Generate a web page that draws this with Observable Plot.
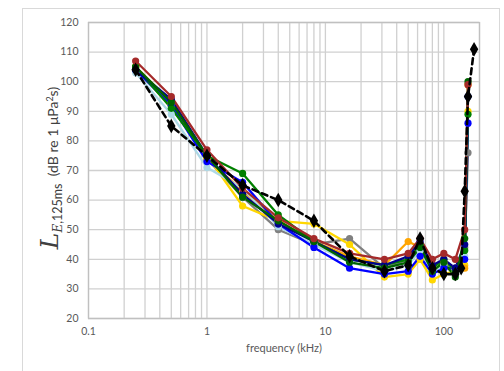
<!DOCTYPE html>
<html>
<head>
<meta charset="utf-8">
<script src="https://cdn.jsdelivr.net/npm/d3@7"></script>
<script src="https://cdn.jsdelivr.net/npm/@observablehq/plot@0.6"></script>
<style>
  html, body { margin: 0; padding: 0; background: #fff; overflow: hidden; }
  #wrap { position: relative; width: 504px; height: 371px; }
  #border { position: absolute; left: 22px; top: 8px; width: 478px; height: 400px; border: 1px solid #d9d9d9; box-sizing: border-box; }
  #chart { position: absolute; left: 0; top: 0; }
</style>
</head>
<body>
<div id="wrap"><div id="border"></div><div id="chart"></div></div>
<script>
// frequencies (kHz)
const freqs = [0.25, 0.5, 1, 2, 4, 8, 16, 31.5, 50, 63, 80, 100, 125, 150, 160];
const freqsBlack = [0.25, 0.5, 1, 2, 4, 8, 16, 31.5, 50, 63, 80, 100, 125, 140, 150, 160, 180];

// series values (dB re 1 µPa²s)
const blue      = [104, 92, 73, 66, 52, 44, 37, 35, 36, 41, 35, 37, 37, 40, 86];
const lightBlue = [103, 89, 71, 64, 51, 45, 39, 36, 38, 43, 36, 38, 36, 41, 95];
const orange    = [105, 93, 74, 63, 53, 46, 41, 38, 46, 44, 36, 39, 37, 37, 99];
const gray      = [104, 92, 74, 61, 50, 45, 47, 37, 40, 44, 36, 38, 35, 44, 76];
const gold      = [105, 92, 75, 58, 53, 52, 45, 34, 35, 40, 33, 35, 36, 38, 90];
const green     = [105, 91, 75, 69, 55, 46, 40, 38, 40, 45, 37, 40, 36, 43, 89];
const darkBlue  = [104, 94, 75, 62, 52, 46, 40, 38, 41, 46, 38, 40, 37, 45, 95];
const darkGreen = [105, 93, 75, 61, 53, 46, 39, 37, 39, 44, 36, 39, 34, 47, 100];
const brown     = [107, 95, 77, 64, 54, 47, 42, 40, 42, 47, 40, 42, 40, 50, 99];
const black     = [104, 85, 75, 65, 60, 53, 41, 36, 38, 47, 37, 35, 35, 37, 63, 95, 111];

const seriesNames  = ["gray", "gold", "orange", "lightBlue", "blue", "green", "darkBlue", "darkGreen", "brown"];
const seriesValues = [gray, gold, orange, lightBlue, blue, green, darkBlue, darkGreen, brown];
const seriesColors = ["#8f8f8f", "#f0a400", "#e4572e", "#5b9bd5", "#4472c4", "#3f9a33", "#264478", "#2f6b2c", "#843c0c"];

// axis ticks
const xTicks = [0.1, 1, 10, 100];
const yTicks = d3.range(20, 121, 10);
const xGrid = [0.1,0.2,0.3,0.4,0.5,0.6,0.7,0.8,0.9,1,2,3,4,5,6,7,8,9,10,20,30,40,50,60,70,80,90,100,200];

const rows = [];
seriesNames.forEach((name, i) => {
  seriesValues[i].forEach((v, j) => rows.push({s: name, f: freqs[j], v}));
});
const blackRows = black.map((v, j) => ({f: freqsBlack[j], v}));

const plot = Plot.plot({
  width: 504,
  height: 371,
  marginLeft: 88,
  marginRight: 25,
  marginTop: 22,
  marginBottom: 53,
  style: {fontFamily: "Lato, sans-serif", fontSize: "10.5px", color: "#595959", background: "transparent"},
  x: {type: "log", domain: [0.1, 200]},
  y: {domain: [20, 120]},
  color: {domain: seriesNames, range: seriesColors},
  marks: [
    Plot.gridX(xGrid, {stroke: "#d0d0d0", strokeOpacity: 1, strokeWidth: 1.3}),
    Plot.gridY(yTicks, {stroke: "#d0d0d0", strokeOpacity: 1, strokeWidth: 1.3}),
    Plot.frame({stroke: "#c0c0c0", strokeWidth: 1.3}),
    Plot.axisX(xTicks, {tickSize: 0, tickPadding: 9, tickFormat: d => String(d), label: null, fill: "#595959"}),
    Plot.axisY(yTicks, {tickSize: 0, tickPadding: 10, label: null, fill: "#595959"}),
    Plot.text(["frequency (kHz)"], {frameAnchor: "bottom", dy: 33, text: d => d, fill: "#595959", fontSize: 11}),
    Plot.line(rows, {x: "f", y: "v", z: "s", stroke: "s", strokeWidth: 2.3}),
    Plot.dot(rows, {x: "f", y: "v", fill: "s", r: 3.6}),
    Plot.line(blackRows, {x: "f", y: "v", stroke: "#000", strokeWidth: 2.6, strokeDasharray: "6,4"}),
    Plot.dot(blackRows, {x: "f", y: "v", fill: "#000", symbol: "diamond", r: 4.4})
  ]
});

document.getElementById("chart").appendChild(plot);

// y-axis label with subscript
const svg = d3.select(plot);
const t = svg.append("text")
  .attr("transform", "translate(58,168) rotate(-90)")
  .attr("text-anchor", "middle")
  .attr("fill", "#404040");
t.append("tspan").text("L").attr("font-family", "DejaVu Serif, serif").attr("font-style", "italic").attr("font-size", 25);
t.append("tspan").text("E").attr("font-family", "DejaVu Serif, serif").attr("font-style", "italic").attr("font-size", 12).attr("dy", 4);
t.append("tspan").text(",125ms").attr("font-family", "Lato, sans-serif").attr("font-size", 12.5);
t.append("tspan").text("  (dB re 1 μPa").attr("font-family", "Lato, sans-serif").attr("font-size", 14).attr("dy", -4);
t.append("tspan").text("2").attr("font-family", "Lato, sans-serif").attr("font-size", 9).attr("dy", -5);
t.append("tspan").text("s)").attr("font-family", "Lato, sans-serif").attr("font-size", 14).attr("dy", 5);
</script>
</body>
</html>
